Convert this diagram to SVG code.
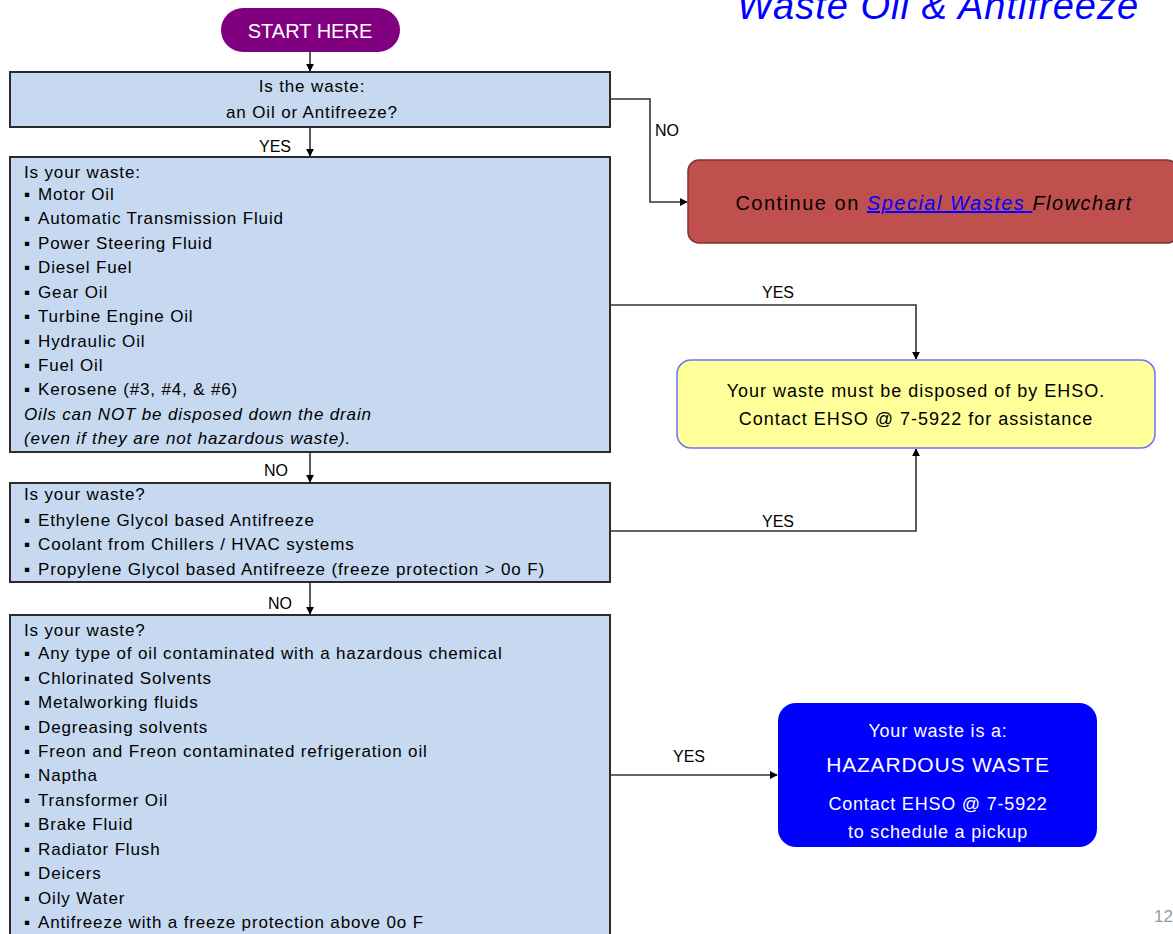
<svg xmlns="http://www.w3.org/2000/svg" width="1173" height="934" viewBox="0 0 1173 934">
  <style>
    text { font-family: "Liberation Sans", Arial, sans-serif; }
    .q { fill: #c6d9f0; stroke: #2b2b2b; stroke-width: 2; }
    .t { font-size: 17px; letter-spacing: 0.85px; fill: #000; }
    .c { text-anchor: middle; }
    .lbl { font-size: 16px; fill: #000; }
    .wire { fill: none; stroke: #333; stroke-width: 1.6; }
    .it { font-style: italic; }
    .y { font-size: 18px; letter-spacing: 1px; fill: #000; text-anchor: middle; }
    .w { font-size: 18px; letter-spacing: 0.8px; fill: #fff; text-anchor: middle; }
    .w.big { font-size: 21px; letter-spacing: 0.8px; }
  </style>
  <defs>
    <marker id="arr" viewBox="0 0 10 10" refX="9" refY="5" markerWidth="8" markerHeight="8" orient="auto" markerUnits="userSpaceOnUse">
      <path d="M0,0 L10,5 L0,10 z" fill="#000"/>
    </marker>
  </defs>

  <rect width="1173" height="934" fill="#fff"/>

  <!-- heading -->
  <text x="938" y="19" class="c" font-size="38" letter-spacing="1" font-style="italic" fill="#0000ff">Waste Oil &amp; Antifreeze</text>
  <text x="1173" y="922" font-size="17" fill="#999" text-anchor="end">12</text>

  <!-- connectors -->
  <g id="connectors">
    <path class="wire" d="M310,52 V71" marker-end="url(#arr)"/>
    <path class="wire" d="M310,127 V156" marker-end="url(#arr)"/>
    <path class="wire" d="M310,452 V482" marker-end="url(#arr)"/>
    <path class="wire" d="M310,582 V614" marker-end="url(#arr)"/>
    <path class="wire" d="M610,99 H650 V202 H687" marker-end="url(#arr)"/>
    <path class="wire" d="M610,305 H916 V359" marker-end="url(#arr)"/>
    <path class="wire" d="M610,531 H916 V449" marker-end="url(#arr)"/>
    <path class="wire" d="M610,775 H777" marker-end="url(#arr)"/>
    <text class="lbl" x="259" y="152">YES</text>
    <text class="lbl" x="264" y="476">NO</text>
    <text class="lbl" x="268" y="609">NO</text>
    <text class="lbl" x="655" y="136">NO</text>
    <text class="lbl" x="762" y="298">YES</text>
    <text class="lbl" x="762" y="527">YES</text>
    <text class="lbl" x="673" y="762">YES</text>
  </g>

  <!-- start -->
  <g id="start">
    <rect x="221" y="8" width="179" height="44" rx="22" fill="#800080"/>
    <text x="310" y="38" class="c" font-size="20" fill="#fff">START HERE</text>
  </g>

  <!-- question 1 -->
  <g id="q1">
    <rect class="q" x="10" y="72" width="600" height="55"/>
    <text class="t c" x="312" y="92">Is the waste:</text>
    <text class="t c" x="312" y="118">an Oil or Antifreeze?</text>
  </g>

  <!-- question 2: oils -->
  <g id="q2">
    <rect class="q" x="10" y="157" width="600" height="295"/>
    <text class="t" x="24" y="178">Is your waste:</text>
    <text class="t" x="24" y="200">▪<tspan x="38">Motor Oil</tspan></text>
    <text class="t" x="24" y="224">▪<tspan x="38">Automatic Transmission Fluid</tspan></text>
    <text class="t" x="24" y="249">▪<tspan x="38">Power Steering Fluid</tspan></text>
    <text class="t" x="24" y="273">▪<tspan x="38">Diesel Fuel</tspan></text>
    <text class="t" x="24" y="298">▪<tspan x="38">Gear Oil</tspan></text>
    <text class="t" x="24" y="322">▪<tspan x="38">Turbine Engine Oil</tspan></text>
    <text class="t" x="24" y="347">▪<tspan x="38">Hydraulic Oil</tspan></text>
    <text class="t" x="24" y="371">▪<tspan x="38">Fuel Oil</tspan></text>
    <text class="t" x="24" y="395">▪<tspan x="38">Kerosene (#3, #4, &amp; #6)</tspan></text>
    <text class="t it" x="24" y="420">Oils can NOT be disposed down the drain</text>
    <text class="t it" x="24" y="444">(even if they are not hazardous waste).</text>
  </g>

  <!-- question 3: antifreeze -->
  <g id="q3">
    <rect class="q" x="10" y="483" width="600" height="99"/>
    <text class="t" x="24" y="500">Is your waste?</text>
    <text class="t" x="24" y="526">▪<tspan x="38">Ethylene Glycol based Antifreeze</tspan></text>
    <text class="t" x="24" y="550">▪<tspan x="38">Coolant from Chillers / HVAC systems</tspan></text>
    <text class="t" x="24" y="575">▪<tspan x="38">Propylene Glycol based Antifreeze (freeze protection &gt; 0o F)</tspan></text>
  </g>

  <!-- question 4: hazardous -->
  <g id="q4">
    <rect class="q" x="10" y="615" width="600" height="330"/>
    <text class="t" x="24" y="636">Is your waste?</text>
    <text class="t" x="24" y="659">▪<tspan x="38">Any type of oil contaminated with a hazardous chemical</tspan></text>
    <text class="t" x="24" y="684">▪<tspan x="38">Chlorinated Solvents</tspan></text>
    <text class="t" x="24" y="708">▪<tspan x="38">Metalworking fluids</tspan></text>
    <text class="t" x="24" y="733">▪<tspan x="38">Degreasing solvents</tspan></text>
    <text class="t" x="24" y="757">▪<tspan x="38">Freon and Freon contaminated refrigeration oil</tspan></text>
    <text class="t" x="24" y="781">▪<tspan x="38">Naptha</tspan></text>
    <text class="t" x="24" y="806">▪<tspan x="38">Transformer Oil</tspan></text>
    <text class="t" x="24" y="830">▪<tspan x="38">Brake Fluid</tspan></text>
    <text class="t" x="24" y="855">▪<tspan x="38">Radiator Flush</tspan></text>
    <text class="t" x="24" y="879">▪<tspan x="38">Deicers</tspan></text>
    <text class="t" x="24" y="904">▪<tspan x="38">Oily Water</tspan></text>
    <text class="t" x="24" y="928">▪<tspan x="38">Antifreeze with a freeze protection above 0o F</tspan></text>
  </g>

  <!-- outcome: special wastes -->
  <g id="special">
    <rect x="688" y="160" width="490" height="83" rx="11" fill="#c0504d" stroke="#7f3331" stroke-width="1.5"/>
    <text x="934" y="210" class="c" font-size="20" letter-spacing="1.5" fill="#000">Continue on <tspan font-style="italic" fill="#0000ff" text-decoration="underline">Special Wastes </tspan><tspan font-style="italic">Flowchart</tspan></text>
  </g>

  <!-- outcome: EHSO disposal -->
  <g id="ehso">
    <rect x="677" y="360" width="478" height="88" rx="14" fill="#ffff99" stroke="#6f6fff" stroke-width="1.5"/>
    <text x="916" y="397" class="y">Your waste must be disposed of by EHSO.</text>
    <text x="916" y="425" class="y">Contact EHSO @ 7-5922 for assistance</text>
  </g>

  <!-- outcome: hazardous waste -->
  <g id="hazardous">
    <rect x="778" y="703" width="319" height="144" rx="18" fill="#0000ff"/>
    <text x="938" y="737" class="w">Your waste is a:</text>
    <text x="938" y="772" class="w big">HAZARDOUS WASTE</text>
    <text x="938" y="810" class="w">Contact EHSO @ 7-5922</text>
    <text x="938" y="838" class="w">to schedule a pickup</text>
  </g>
</svg>
